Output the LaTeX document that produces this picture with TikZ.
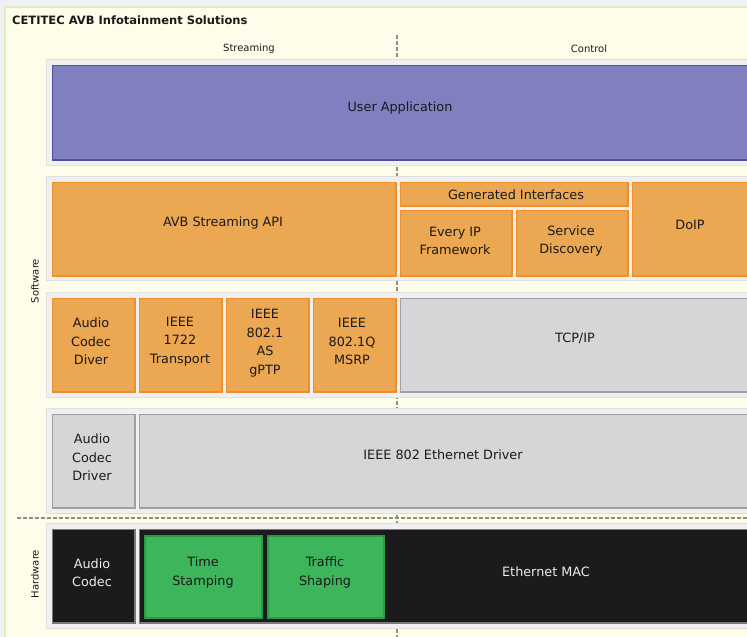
\documentclass[tikz,border=0pt]{standalone}
\usepackage{fontspec}
\setmainfont{DejaVu Sans}
\definecolor{bgtop}{HTML}{EEF0F4}
\definecolor{panel}{HTML}{FDFDEA}
\definecolor{panelbd}{HTML}{E3ECC0}
\definecolor{framefill}{HTML}{F0F0F0}
\definecolor{framebd}{HTML}{E0E0E0}
\definecolor{purfill}{HTML}{8080C0}
\definecolor{purbd}{HTML}{4F4F9E}
\definecolor{orfill}{HTML}{ECA752}
\definecolor{orbd}{HTML}{EE8F2C}
\definecolor{gyfill}{HTML}{D5D6D8}
\definecolor{gybd}{HTML}{9FA0A3}
\definecolor{bkfill}{HTML}{1B1B1D}
\definecolor{bkbd}{HTML}{7A7A7C}
\definecolor{grfill}{HTML}{3DB65B}
\definecolor{grbd}{HTML}{2B9A45}
\definecolor{dashcol}{HTML}{8C8C8C}
\definecolor{txtdark}{HTML}{1A1A1A}
\tikzset{
  frame/.style={draw=framebd, fill=framefill, line width=1pt, anchor=north west, inner sep=0pt, minimum width=710pt},
  box/.style={anchor=north west, inner sep=0pt, line width=1.5pt, xshift=0.75pt, yshift=-0.75pt},
  purbox/.style={box, draw=purbd, fill=purfill},
  orbox/.style={box, draw=orbd, fill=orfill},
  gybox/.style={box, draw=gybd, fill=gyfill},
  bkbox/.style={box, draw=bkbd, fill=bkfill},
  grbox/.style={box, draw=grbd, fill=grfill, line width=2pt, xshift=0.25pt, yshift=-0.25pt},
  lbl/.style={align=center, inner sep=0pt, text=txtdark, font=\fontsize{12.8}{18.5}\selectfont},
  wlbl/.style={lbl, text=white!92!black},
  small/.style={inner sep=0pt, text=txtdark, font=\fontsize{10}{12}\selectfont},
  divider/.style={draw=dashcol, line width=1.5pt, dash pattern=on 4pt off 2pt}
}
\begin{document}
\begin{tikzpicture}[x=1pt,y=-1pt]
\useasboundingbox (0,0) rectangle (747,637);
\clip (0,0) rectangle (747,637);
% background
\fill[bgtop] (0,0) rectangle (747,637);
\path[fill=panel, draw=panelbd, line width=2pt] (5,7) rectangle (760,660);
% title and column labels
\node[anchor=west, inner sep=0pt, font=\fontsize{11.5}{14}\selectfont\bfseries, text=txtdark] (title) at (12,20) {CETITEC AVB Infotainment Solutions};
\node[small] (streaming) at (249,49) {Streaming};
\node[small] (control) at (589,49) {Control};
\node[small, rotate=90] (software) at (35,281) {Software};
\node[small, rotate=90] (hardware) at (35,574) {Hardware};
% dividers
\coordinate (vtop) at (397,35);
\coordinate (vbot) at (397,640);
\draw[divider] (vtop) -- (vbot);
\coordinate (hl) at (17,518);
\coordinate (hr) at (760,518);
\draw[divider] (hl) -- (hr);
% layer frames
\node[frame, minimum height=106pt] (f1) at (46,59) {};
\node[frame, minimum height=104pt] (f2) at (46,176) {};
\node[frame, minimum height=105pt] (f3) at (46,292) {};
\node[frame, minimum height=105pt] (f4) at (46,408) {};
\node[frame, minimum height=105pt] (f5) at (46,523) {};
% layer 1
\node[purbox, minimum width=696.5pt, minimum height=94.5pt] (ua) at (51,64) {};
\node[lbl] (uat) at (400,108) {User Application};
% layer 2
\node[orbox, minimum width=343.5pt, minimum height=93.5pt] (avb) at (51,181) {};
\node[lbl] (avbt) at (223,223) {AVB Streaming API};
\node[orbox, minimum width=227.5pt, minimum height=23.5pt] (gen) at (399,181) {};
\node[lbl] (gent) at (516,195) {Generated Interfaces};
\node[orbox, minimum width=111.5pt, minimum height=65.5pt] (eip) at (399,209) {};
\node[lbl] (eipt) at (455,241) {Every IP\\Framework};
\node[orbox, minimum width=111.5pt, minimum height=65.5pt] (sd) at (515,209) {};
\node[lbl] (sdt) at (571,241) {Service\\Discovery};
\node[orbox, minimum width=116.5pt, minimum height=93.5pt] (doip) at (631,181) {};
\node[lbl] (doipt) at (690,225) {DoIP};
% layer 3
\node[orbox, minimum width=82.5pt, minimum height=93.5pt] (acd1) at (51,297) {};
\node[lbl] (acd1t) at (91,341.5) {Audio\\Codec\\Diver};
\node[orbox, minimum width=82.5pt, minimum height=93.5pt] (t1722) at (138,297) {};
\node[lbl] (t1722t) at (180,341.5) {IEEE\\1722\\Transport};
\node[orbox, minimum width=82.5pt, minimum height=93.5pt] (gptp) at (225,297) {};
\node[lbl] (gptpt) at (265,343) {IEEE\\802.1\\AS\\gPTP};
\node[orbox, minimum width=82.5pt, minimum height=93.5pt] (msrp) at (312,297) {};
\node[lbl] (msrpt) at (352,341.5) {IEEE\\802.1Q\\MSRP};
\node[gybox, minimum width=348.5pt, minimum height=93.5pt] (tcp) at (399,297) {};
\node[lbl] (tcpt) at (575,338) {TCP/IP};
% layer 4
\node[gybox, minimum width=82.5pt, minimum height=93.5pt] (acd2) at (51,413) {};
\node[lbl] (acd2t) at (92,457.5) {Audio\\Codec\\Driver};
\node[gybox, minimum width=609.5pt, minimum height=93.5pt] (eth) at (138,413) {};
\node[lbl] (etht) at (443,455) {IEEE 802 Ethernet Driver};
% layer 5 (hardware)
\node[bkbox, minimum width=82.5pt, minimum height=93.5pt] (ac) at (51,528) {};
\node[wlbl] (act) at (92,572.5) {Audio\\Codec};
\node[bkbox, minimum width=609.5pt, minimum height=93.5pt] (mac) at (138,528) {};
\node[wlbl] (mact) at (546,572) {Ethernet MAC};
\node[grbox, minimum width=117pt, minimum height=82pt] (ts) at (143,534) {};
\node[lbl] (tst) at (203,572.5) {Time\\Stamping};
\node[grbox, minimum width=116pt, minimum height=82pt] (tsh) at (266,534) {};
\node[lbl] (tsht) at (325,572.5) {Traffic\\Shaping};
\end{tikzpicture}
\end{document}
